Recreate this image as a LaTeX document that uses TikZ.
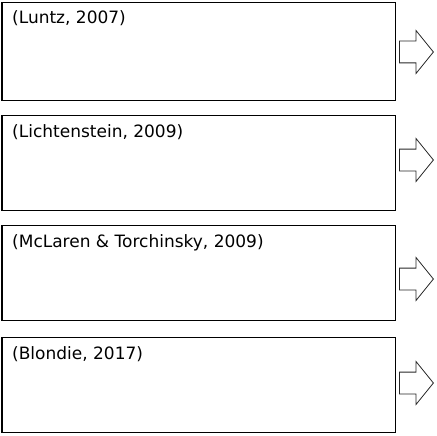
\documentclass[tikz,border=0pt]{standalone}
\usepackage{fontspec}
\setmainfont{DejaVu Sans}
\usetikzlibrary{shapes.arrows}

\begin{document}
\begin{tikzpicture}
  [x=1pt, y=-1pt,
   refbox/.style={draw=black, line width=1.3pt, minimum width=393pt, minimum height=95pt, inner sep=0pt},
   cite/.style={anchor=base west, inner sep=0pt, font=\fontsize{17}{20}\selectfont},
   blockarrow/.style={single arrow, draw=black!85, line width=0.8pt, anchor=tail,
     minimum height=34pt, inner xsep=0pt, inner ysep=10.5pt,
     single arrow head extend=10.5pt, single arrow tip angle=102}]

  \useasboundingbox (0,0) rectangle (437,436);

  \node[refbox, anchor=north west, minimum height=98pt] (b1) at (1.5,2) {};
  \node[refbox, anchor=north west] (b2) at (1.5,115) {};
  \node[refbox, anchor=north west] (b3) at (1.5,225) {};
  \node[refbox, anchor=north west] (b4) at (1.5,337) {};

  \node[cite] (t1) at ([xshift=10.5pt, yshift=-22pt]b1.north west) {(Luntz, 2007)};
  \node[cite] (t2) at ([xshift=10.5pt, yshift=-22pt]b2.north west) {(Lichtenstein, 2009)};
  \node[cite] (t3) at ([xshift=10.5pt, yshift=-22pt]b3.north west) {(McLaren \& Torchinsky, 2009)};
  \node[cite] (t4) at ([xshift=10.5pt, yshift=-22pt]b4.north west) {(Blondie, 2017)};

  \node[blockarrow] (a1) at (399,52) {};
  \node[blockarrow] (a2) at (399,160) {};
  \node[blockarrow] (a3) at (399,279) {};
  \node[blockarrow] (a4) at (399,383) {};
\end{tikzpicture}
\end{document}
